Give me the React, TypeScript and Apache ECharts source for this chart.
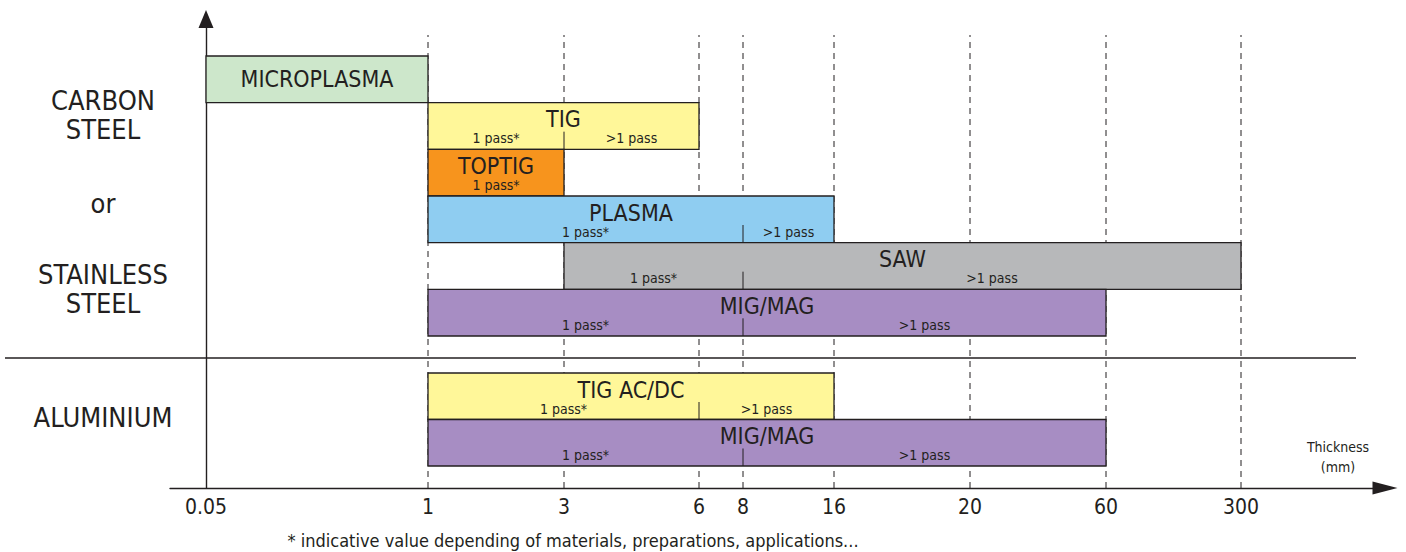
import React, { useEffect, useRef } from "react";
import * as echarts from "echarts";

// Thickness ticks (mm) and their place on the chart's (non-linear) thickness scale
const thicknessTicks = ["0.05", "1", "3", "6", "8", "16", "20", "60", "300"];
const tickPositions = [0, 222, 358, 493, 537, 628, 764, 900, 1035];

// Carbon steel / stainless steel processes
const steelProcesses = ["MICROPLASMA", "TIG", "TOPTIG", "PLASMA", "SAW", "MIG/MAG"];
const steelFrom = ["0.05", "1", "1", "1", "3", "1"];
const steelTo = ["1", "6", "3", "16", "300", "60"];
const steelSplit = ["", "3", "", "8", "8", "8"];
const steelPasses = [
  [],
  ["1 pass*", ">1 pass"],
  ["1 pass*"],
  ["1 pass*", ">1 pass"],
  ["1 pass*", ">1 pass"],
  ["1 pass*", ">1 pass"],
];
const steelColors = ["#cde7cb", "#fff799", "#f7941d", "#8fcdf1", "#b7b8ba", "#a78dc3"];

// Aluminium processes
const aluProcesses = ["TIG AC/DC", "MIG/MAG"];
const aluFrom = ["1", "1"];
const aluTo = ["16", "60"];
const aluSplit = ["6", "8"];
const aluPasses = [
  ["1 pass*", ">1 pass"],
  ["1 pass*", ">1 pass"],
];
const aluColors = ["#fff799", "#a78dc3"];

const materialLabels = ["CARBON\nSTEEL", "or", "STAINLESS\nSTEEL", "ALUMINIUM"];
const axisName = "Thickness\n(mm)";
const footnote = "* indicative value depending of materials, preparations, applications...";

const FONT = "'DejaVu Sans Condensed', 'Liberation Sans Narrow', 'Roboto', sans-serif";
const INK = "#231f20";

const pos = (t: string) => tickPositions[thicknessTicks.indexOf(t)];

const X_MIN = -36;
const X_MAX = 1179;
const GRID_LEFT = 170;
const GRID_RIGHT = 1406 - 1385;

function makeBars(
  names: string[],
  from: string[],
  to: string[],
  split: string[],
  passes: string[][],
  colors: string[],
  gridIdx: number
) {
  const data = names.map((n, i) => [i, pos(from[i]), pos(to[i]), split[i] ? pos(split[i]) : -1]);
  const sub = (text: string, x: number, y: number) => ({
    type: "text",
    style: {
      text, x, y, align: "center", verticalAlign: "middle",
      fontSize: 14, lineHeight: 14, fontFamily: FONT, fill: INK,
    },
  });
  return {
    type: "custom",
    xAxisIndex: gridIdx,
    yAxisIndex: gridIdx,
    data,
    encode: { x: [1, 2], y: 0 },
    z: 5,
    renderItem: (params: any, api: any) => {
      const i = params.dataIndex;
      const row = api.value(0);
      const a = api.coord([api.value(1), row]);
      const b = api.coord([api.value(2), row]);
      const sv = api.value(3);
      const h = api.size([0, 1])[1];
      const top = a[1] - h / 2;
      const x0 = a[0];
      const x1 = b[0];
      const p = passes[i];
      const children: any[] = [
        {
          type: "rect",
          shape: { x: x0, y: top, width: x1 - x0, height: h },
          style: { fill: colors[i], stroke: INK, lineWidth: 1.3 },
        },
        {
          type: "text",
          style: {
            text: names[i],
            x: (x0 + x1) / 2,
            y: p.length ? top + 16.5 : top + h / 2,
            align: "center",
            verticalAlign: "middle",
            fontSize: 23,
            lineHeight: 21,
            fontFamily: FONT,
            fill: INK,
          },
        },
      ];
      if (sv >= 0) {
        const xs = api.coord([sv, row])[0];
        children.push({
          type: "line",
          shape: { x1: xs, y1: top + 29, x2: xs, y2: top + h },
          style: { stroke: INK, lineWidth: 1 },
        });
        children.push(sub(p[0], (x0 + xs) / 2, top + 35.5));
        children.push(sub(p[1], (xs + x1) / 2, top + 35.5));
      } else if (p.length) {
        children.push(sub(p[0], (x0 + x1) / 2, top + 35.5));
      }
      return { type: "group", children };
    },
  };
}

export default function App() {
  const ref = useRef<HTMLDivElement>(null);
  useEffect(() => {
    document.body.style.margin = "0";
    if (!ref.current) return;
    const chart = echarts.init(ref.current, undefined, { renderer: "svg" });
    const hiddenX = (g: number) => ({
      type: "value", gridIndex: g, min: X_MIN, max: X_MAX, show: false,
    });
    chart.setOption({
      animation: false,
      grid: [
        { left: GRID_LEFT, right: GRID_RIGHT, top: 19, bottom: 552 - 488 },
        { left: GRID_LEFT, right: GRID_RIGHT, top: 35, bottom: 552 - 488 },
        { left: GRID_LEFT, right: GRID_RIGHT, top: 56, height: 280 },
        { left: GRID_LEFT, right: GRID_RIGHT, top: 373, height: 93 },
      ],
      xAxis: [
        {
          type: "value",
          gridIndex: 0,
          min: X_MIN,
          max: X_MAX,
          axisLine: {
            show: true,
            onZero: false,
            symbol: ["none", "triangle"],
            symbolSize: [13, 25],
            lineStyle: { color: INK, width: 1.4 },
          },
          axisTick: { show: false },
          splitLine: { show: false },
          axisLabel: {
            customValues: tickPositions,
            formatter: (v: number) => {
              const k = tickPositions.indexOf(v);
              return k >= 0 ? thicknessTicks[k] : "";
            },
            fontSize: 21,
            fontFamily: FONT,
            color: INK,
            margin: 8,
          },
        },
        hiddenX(1),
        hiddenX(2),
        hiddenX(3),
      ],
      yAxis: [
        {
          type: "value",
          gridIndex: 0,
          min: 0,
          max: 1,
          axisLine: {
            show: true,
            onZero: true,
            symbol: ["none", "triangle"],
            symbolSize: [15, 18],
            lineStyle: { color: INK, width: 1.4 },
          },
          axisTick: { show: false },
          axisLabel: { show: false },
          splitLine: { show: false },
        },
        { type: "value", gridIndex: 1, min: 0, max: 1, show: false },
        { type: "category", gridIndex: 2, data: steelProcesses, inverse: true, show: false },
        { type: "category", gridIndex: 3, data: aluProcesses, inverse: true, show: false },
      ],
      series: [
        {
          type: "custom",
          xAxisIndex: 1,
          yAxisIndex: 1,
          data: tickPositions.slice(1).map((v) => [v]),
          encode: { x: 0 },
          z: 1,
          renderItem: (_p: any, api: any) => {
            const a = api.coord([api.value(0), 0]);
            const b = api.coord([api.value(0), 1]);
            return {
              type: "line",
              shape: { x1: a[0], y1: a[1], x2: b[0], y2: b[1] },
              style: { stroke: INK, lineWidth: 1, lineDash: [6, 5] },
            };
          },
        },
        makeBars(steelProcesses, steelFrom, steelTo, steelSplit, steelPasses, steelColors, 2),
        makeBars(aluProcesses, aluFrom, aluTo, aluSplit, aluPasses, aluColors, 3),
      ],
      graphic: [
        {
          type: "line",
          shape: { x1: 5, y1: 358, x2: 1356, y2: 358 },
          style: { stroke: INK, lineWidth: 1.3 },
          z: 10,
        },
        ...materialLabels.map((t, i) => ({
          type: "text",
          x: 103,
          y: [115, 203, 289, 417][i],
          style: {
            text: t,
            align: "center",
            verticalAlign: "middle",
            fontSize: 27,
            lineHeight: 29,
            fontFamily: FONT,
            fill: INK,
          },
        })),
        {
          type: "text",
          x: 1338,
          y: 457,
          style: {
            text: axisName,
            align: "center",
            verticalAlign: "middle",
            fontSize: 14,
            lineHeight: 20,
            fontFamily: FONT,
            fill: INK,
          },
        },
        {
          type: "text",
          x: 573,
          y: 540,
          style: {
            text: footnote,
            align: "center",
            verticalAlign: "middle",
            fontSize: 18,
            fontFamily: FONT,
            fill: INK,
          },
        },
      ],
    });
    return () => chart.dispose();
  }, []);
  return <div ref={ref} style={{ width: 1406, height: 552 }} />;
}
